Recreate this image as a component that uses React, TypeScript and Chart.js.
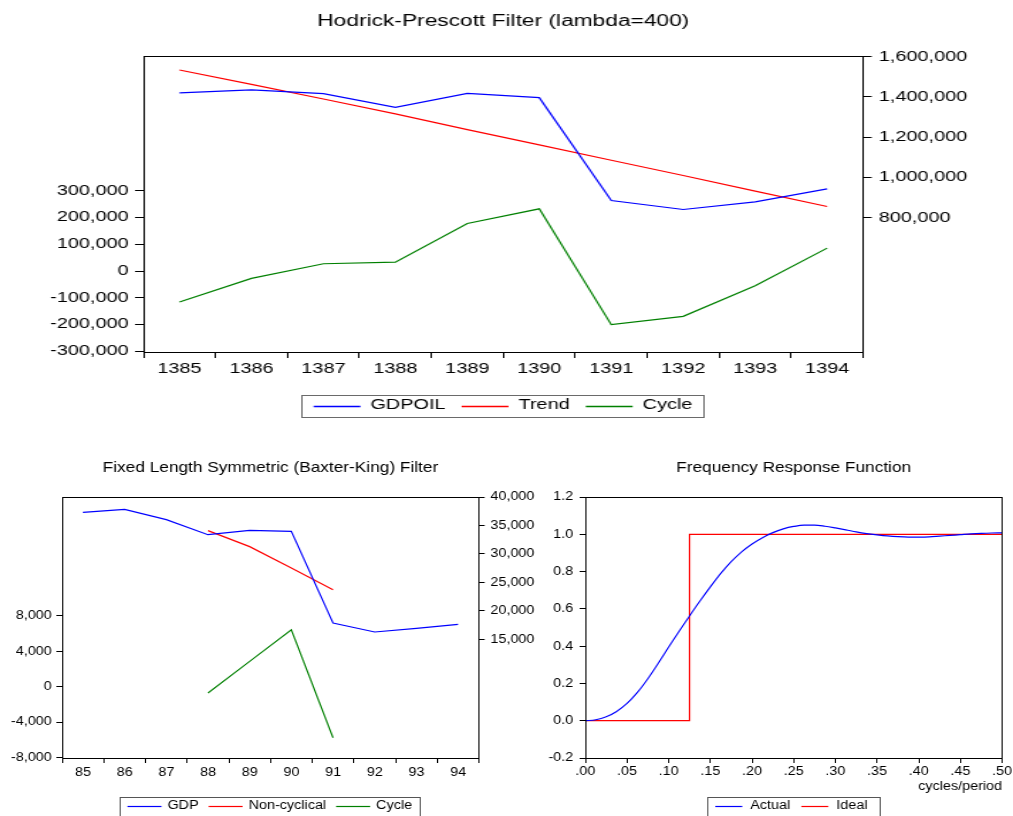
import React, { useEffect, useRef } from 'react';
import { Chart, registerables } from 'chart.js';

Chart.register(...registerables);

const FONT = "'Liberation Sans', Arial, Helvetica, sans-serif";

// ---------- Hodrick-Prescott ----------
const hpYears = ['1385', '1386', '1387', '1388', '1389', '1390', '1391', '1392', '1393', '1394'];
const hpGdpOil = [1419800, 1434700, 1416500, 1348700, 1418000, 1396700, 885900, 841300, 879300, 943800];
const hpTrend = [1533900, 1462800, 1390000, 1315700, 1238000, 1162000, 1086000, 1010000, 932200, 856200];
const hpCycle = [-115800, -27400, 27400, 33600, 178100, 232900, -200500, -169400, -54800, 85900];
const hpLeftTicks = [-300000, -200000, -100000, 0, 100000, 200000, 300000];
const hpRightTicks = [800000, 1000000, 1200000, 1400000, 1600000];

// ---------- Baxter-King ----------
const bkYears = ['85', '86', '87', '88', '89', '90', '91', '92', '93', '94'];
const bkGdp = [37300, 37830, 36020, 33380, 34150, 33970, 17870, 16290, 16930, 17630];
const bkNonCyclical = [null, null, null, 34090, 31280, 27530, 23720, null, null, null];
const bkCycle = [null, null, null, -710, 2860, 6430, -5790, null, null, null];
const bkLeftTicks = [-8000, -4000, 0, 4000, 8000];
const bkRightTicks = [15000, 20000, 25000, 30000, 35000, 40000];

// ---------- Frequency response ----------
const frFreq = [
  0, 0.0125, 0.025, 0.0375, 0.05, 0.0625, 0.075, 0.0875, 0.1, 0.1125, 0.125, 0.1375, 0.15, 0.1625,
  0.175, 0.1875, 0.2, 0.2125, 0.225, 0.2375, 0.25, 0.2625, 0.275, 0.2875, 0.3, 0.3125, 0.325, 0.3375,
  0.35, 0.3625, 0.375, 0.3875, 0.4, 0.4125, 0.425, 0.4375, 0.45, 0.4625, 0.475, 0.4875, 0.5,
];
const frActual = [
  0, 0.005, 0.021, 0.05, 0.093, 0.152, 0.225, 0.308, 0.395, 0.48, 0.562, 0.642, 0.718, 0.79,
  0.853, 0.906, 0.948, 0.982, 1.009, 1.029, 1.042, 1.049, 1.049, 1.043, 1.034, 1.024, 1.013, 1.004,
  0.997, 0.991, 0.987, 0.985, 0.985, 0.986, 0.99, 0.994, 0.998, 1.002, 1.005, 1.007, 1.008,
];
const frIdealFreq = [0, 0.125, 0.125, 0.5];
const frIdealResp = [0, 0, 1, 1];
const frXTicks = [0, 0.05, 0.1, 0.15, 0.2, 0.25, 0.3, 0.35, 0.4, 0.45, 0.5];
const frYTicks = [-0.2, 0, 0.2, 0.4, 0.6, 0.8, 1.0, 1.2];

Chart.defaults.font.family = FONT;
Chart.defaults.color = '#000';

const alignPx = (v: number) => Math.round(v - 0.5) + 0.5;

const decorPlugin = {
  id: 'decor',
  afterDraw(chart: any, _args: any, o: any) {
    const { ctx, chartArea: ca } = chart;
    if (!o || !ca || !o.title) return;
    ctx.save();
    ctx.strokeStyle = '#000';
    ctx.lineWidth = 1;
    const l = alignPx(ca.left), r = alignPx(ca.right), t = alignPx(ca.top), b = alignPx(ca.bottom);
    ctx.strokeRect(l, t, r - l, b - t);
    const cx = (ca.left + ca.right) / 2;
    ctx.fillStyle = '#000';
    ctx.font = `${o.titleSize}px ${FONT}`;
    ctx.textAlign = 'center';
    ctx.textBaseline = 'middle';
    ctx.fillText(o.title, cx, o.titleY);
    const lg = o.legend;
    const items = chart.data.datasets.map((d: any) => ({ text: d.label, color: d.borderColor }));
    ctx.font = `${lg.size}px ${FONT}`;
    const widths = items.map((it: any) => ctx.measureText(it.text).width);
    let total = lg.padL + lg.padR;
    widths.forEach((w: number, i: number) => {
      total += lg.lineLen + lg.gapLT + w + (i > 0 ? lg.gapTL : 0);
    });
    const x0 = cx - total / 2;
    ctx.strokeStyle = lg.boxColor;
    ctx.lineWidth = 1;
    ctx.strokeRect(alignPx(x0), alignPx(lg.top), Math.round(total), Math.round(lg.height));
    let x = x0 + lg.padL;
    ctx.textAlign = 'left';
    items.forEach((it: any, i: number) => {
      if (i > 0) x += lg.gapTL;
      ctx.strokeStyle = it.color;
      ctx.lineWidth = lg.lineWidth;
      ctx.beginPath();
      ctx.moveTo(x, lg.lineY);
      ctx.lineTo(x + lg.lineLen, lg.lineY);
      ctx.stroke();
      x += lg.lineLen + lg.gapLT;
      ctx.fillStyle = '#000';
      ctx.fillText(it.text, x, lg.textY);
      x += widths[i];
    });
    ctx.restore();
  },
};

const fixW = (w: number) => (s: any) => {
  s.width = w;
  s.paddingTop = 0;
  s.paddingBottom = 0;
};
const fixH = (h: number) => (s: any) => {
  s.height = h;
  s.paddingLeft = 0;
  s.paddingRight = 0;
};
const setTicks = (vals: number[]) => (s: any) => {
  s.ticks = vals.map((v) => ({ value: v }));
};
const thousands = (v: any) => Number(v).toLocaleString('en-US');

const tickGrid = (len: number, offset = false) => ({
  offset,
  drawOnChartArea: false,
  drawTicks: true,
  tickLength: len,
  color: '#000',
  lineWidth: 1,
});

const common = {
  animation: false,
  responsive: false,
  devicePixelRatio: 1,
  events: [],
  elements: {
    point: { radius: 0, hoverRadius: 0 },
    line: { borderWidth: 1.2, fill: false, tension: 0 },
  },
};

export default function App() {
  const topRef = useRef<HTMLCanvasElement>(null);
  const blRef = useRef<HTMLCanvasElement>(null);
  const brRef = useRef<HTMLCanvasElement>(null);

  useEffect(() => {
    const charts: Chart[] = [];

    // ---- top: HP filter ----
    charts.push(
      new Chart(topRef.current as HTMLCanvasElement, {
        type: 'line',
        data: {
          labels: hpYears,
          datasets: [
            { label: 'GDPOIL', data: hpGdpOil, borderColor: '#0000ff', yAxisID: 'y1' },
            { label: 'Trend', data: hpTrend, borderColor: '#ff0000', yAxisID: 'y1' },
            { label: 'Cycle', data: hpCycle, borderColor: '#008000', yAxisID: 'y' },
          ],
        },
        options: {
          ...common,
          layout: { padding: { left: 0, right: 0, top: 56, bottom: 0 } },
          plugins: {
            legend: { display: false },
            title: { display: false },
            tooltip: { enabled: false },
            decor: {
              title: 'Hodrick-Prescott Filter (lambda=400)',
              titleSize: 16,
              titleY: 22,
              legend: {
                size: 14, top: 395.5, height: 22, lineY: 406.5, textY: 405,
                lineLen: 33, gapLT: 7, gapTL: 11.3, padL: 8.2, padR: 8.7,
                lineWidth: 1.4, boxColor: '#6a6a6a',
              },
            },
          } as any,
          scales: {
            x: {
              type: 'category',
              offset: true,
              grid: tickGrid(6, true),
              border: { display: false },
              ticks: { padding: 2.5, font: { size: 14 }, maxRotation: 0, autoSkip: false },
              afterFit: fixH(88),
            },
            y: {
              position: 'left',
              min: -302600,
              max: 804500,
              grid: tickGrid(6),
              border: { display: false },
              ticks: { padding: 4.5, font: { size: 14 }, autoSkip: false, callback: thousands },
              afterBuildTicks: setTicks(hpLeftTicks),
              afterFit: fixW(101),
            },
            y1: {
              position: 'right',
              min: 133900,
              max: 1603300,
              grid: tickGrid(6),
              border: { display: false },
              ticks: { padding: 5, font: { size: 14 }, autoSkip: false, callback: thousands },
              afterBuildTicks: setTicks(hpRightTicks),
              afterFit: fixW(105.5),
            },
          } as any,
        } as any,
        plugins: [decorPlugin],
      })
    );

    // ---- bottom-left: Baxter-King ----
    charts.push(
      new Chart(blRef.current as HTMLCanvasElement, {
        type: 'line',
        data: {
          labels: bkYears,
          datasets: [
            { label: 'GDP', data: bkGdp, borderColor: '#0000ff', yAxisID: 'y1' },
            { label: 'Non-cyclical', data: bkNonCyclical, borderColor: '#ff0000', yAxisID: 'y1' },
            { label: 'Cycle', data: bkCycle, borderColor: '#008000', yAxisID: 'y' },
          ],
        },
        options: {
          ...common,
          layout: { padding: { left: 0, right: 0, top: 57, bottom: 0 } },
          plugins: {
            legend: { display: false },
            title: { display: false },
            tooltip: { enabled: false },
            decor: {
              title: 'Fixed Length Symmetric (Baxter-King) Filter',
              titleSize: 15,
              titleY: 28,
              legend: {
                size: 12.5, top: 357, height: 25, lineY: 366.5, textY: 366,
                lineLen: 29.6, gapLT: 5.2, gapTL: 8.7, padL: 6.3, padR: 7.6,
                lineWidth: 1.2, boxColor: '#555',
              },
            },
          } as any,
          scales: {
            x: {
              type: 'category',
              offset: true,
              grid: tickGrid(5, true),
              border: { display: false },
              ticks: { padding: 2, font: { size: 12.5 }, maxRotation: 0, autoSkip: false },
              afterFit: fixH(58),
            },
            y: {
              position: 'left',
              min: -8075,
              max: 21470,
              grid: tickGrid(5),
              border: { display: false },
              ticks: { padding: 4, font: { size: 12.5 }, autoSkip: false, callback: thousands },
              afterBuildTicks: setTicks(bkLeftTicks),
              afterFit: fixW(54),
            },
            y1: {
              position: 'right',
              min: -5845,
              max: 40000,
              grid: tickGrid(5),
              border: { display: false },
              ticks: { padding: 5, font: { size: 12.5 }, autoSkip: false, callback: thousands },
              afterBuildTicks: setTicks(bkRightTicks),
              afterFit: fixW(57.5),
            },
          } as any,
        } as any,
        plugins: [decorPlugin],
      })
    );

    // ---- bottom-right: frequency response ----
    charts.push(
      new Chart(brRef.current as HTMLCanvasElement, {
        type: 'scatter',
        data: {
          datasets: [
            {
              label: 'Actual',
              data: frFreq.map((f, i) => ({ x: f, y: frActual[i] })),
              borderColor: '#0000ff',
              showLine: true,
              cubicInterpolationMode: 'monotone',
            },
            {
              label: 'Ideal',
              data: frIdealFreq.map((f, i) => ({ x: f, y: frIdealResp[i] })),
              borderColor: '#ff0000',
              showLine: true,
              tension: 0,
            },
          ],
        },
        options: {
          ...common,
          layout: { padding: { left: 0, right: 9.5, top: 57, bottom: 0 } },
          plugins: {
            legend: { display: false },
            title: { display: false },
            tooltip: { enabled: false },
            decor: {
              title: 'Frequency Response Function',
              titleSize: 15,
              titleY: 28,
              legend: {
                size: 12.5, top: 357, height: 25, lineY: 366.5, textY: 366,
                lineLen: 23.5, gapLT: 7, gapTL: 9.6, padL: 6.7, padR: 10.7,
                lineWidth: 1.2, boxColor: '#555',
              },
            },
          } as any,
          scales: {
            x: {
              type: 'linear',
              min: 0,
              max: 0.5,
              grid: tickGrid(5),
              border: { display: false },
              ticks: {
                padding: 1,
                font: { size: 12.5 },
                maxRotation: 0,
                autoSkip: false,
                callback: (v: any) => Number(v).toFixed(2).replace(/^0/, ''),
              },
              title: {
                display: true,
                text: 'cycles/period',
                align: 'end',
                color: '#000',
                font: { size: 12.5 },
                padding: { top: 0, bottom: 21.5 },
              },
              afterBuildTicks: setTicks(frXTicks),
              afterFit: fixH(58),
            },
            y: {
              position: 'left',
              min: -0.2,
              max: 1.2,
              grid: tickGrid(5),
              border: { display: false },
              ticks: {
                padding: 5.5,
                font: { size: 12.5 },
                autoSkip: false,
                callback: (v: any) => Number(v).toFixed(1),
              },
              afterBuildTicks: setTicks(frYTicks),
              afterFit: fixW(69),
            },
          } as any,
        } as any,
        plugins: [decorPlugin],
      })
    );

    return () => {
      charts.forEach((c) => c.destroy());
    };
  }, []);

  return (
    <div
      style={{
        position: 'absolute',
        left: 0,
        top: 0,
        width: 1013,
        height: 816,
        background: '#fff',
        overflow: 'hidden',
      }}
    >
      <canvas
        ref={topRef}
        width={713}
        height={440}
        style={{ position: 'absolute', left: 0, top: 0, width: '1013px', height: '440px' }}
      />
      <canvas
        ref={blRef}
        width={474}
        height={376}
        style={{ position: 'absolute', left: 0, top: 440, width: '545px', height: '376px' }}
      />
      <canvas
        ref={brRef}
        width={441}
        height={376}
        style={{ position: 'absolute', left: 506, top: 440, width: '507px', height: '376px' }}
      />
    </div>
  );
}
